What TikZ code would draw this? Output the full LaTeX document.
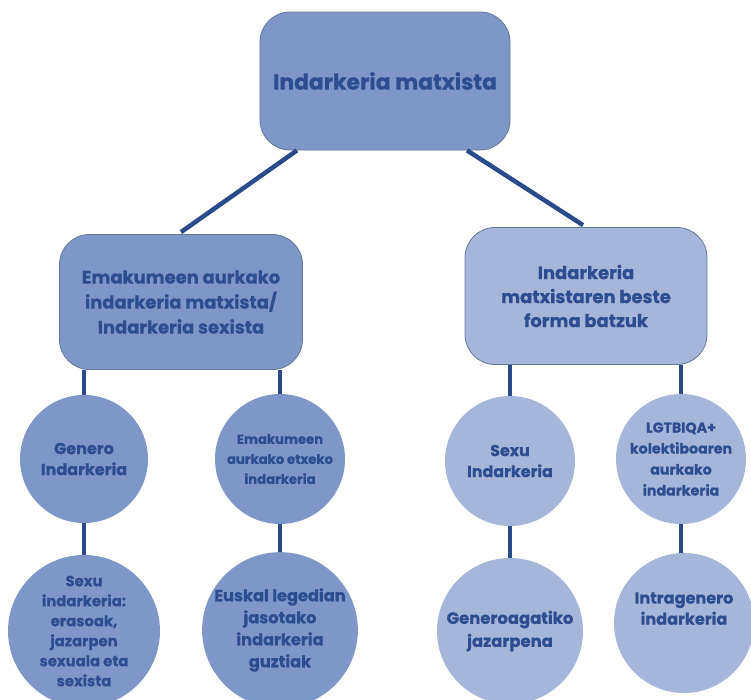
\documentclass[tikz,border=0pt]{standalone}
\usepackage{fontspec}
\setmainfont{Poppins}[BoldFeatures={FakeBold=0.6}]
\definecolor{txt}{HTML}{2C4D8F}
\definecolor{lnk}{HTML}{2A4A8A}
\definecolor{darkfill}{HTML}{7F97C8}
\definecolor{lightfill}{HTML}{A6B6DA}
\definecolor{edge}{HTML}{66779A}
\tikzset{
  boxnode/.style={draw=edge, line width=0.8pt, rounded corners=30pt, align=center, text=txt, font=\bfseries, inner sep=0pt},
  circnode/.style={circle, draw=none, align=center, text=txt, inner sep=0pt},
  link/.style={draw=lnk, line width=4.5pt},
}
\begin{document}
\begin{tikzpicture}[x=1pt,y=-1pt]
\useasboundingbox (0,0) rectangle (751,699);
\fill[white] (0,0) rectangle (751,699);
\clip (0,0) rectangle (751,699);
% top
\node[boxnode, fill=darkfill, minimum width=250pt, minimum height=138pt, font=\bfseries\fontsize{21.8}{26}\selectfont] (top) at (385,81) {Indarkeria matxista};
% middle boxes
\node[boxnode, fill=darkfill, minimum width=243pt, minimum height=135pt, font=\bfseries\fontsize{17.9}{25}\selectfont] (lb) at (181,302) {Emakumeen aurkako\\indarkeria matxista/\\Indarkeria sexista};
\node[boxnode, fill=lightfill, minimum width=242pt, minimum height=137pt, font=\bfseries\fontsize{17.9}{24}\selectfont] (rb) at (586,296) {Indarkeria\\matxistaren beste\\forma batzuk};
% top circles
\node[circnode, fill=darkfill, minimum size=128pt, font=\bfseries\fontsize{16}{21}\selectfont] (c1) at (84,459) {Genero\\Indarkeria};
\node[circnode, fill=darkfill, minimum size=130pt, font=\bfseries\fontsize{13.2}{20}\selectfont] (c2) at (280,459) {Emakumeen\\aurkako etxeko\\indarkeria};
\node[circnode, fill=lightfill, minimum size=130pt, font=\bfseries\fontsize{15.9}{21}\selectfont] (c3) at (510,461) {Sexu\\Indarkeria};
\node[circnode, fill=lightfill, minimum size=130pt, font=\bfseries\fontsize{14.2}{21}\selectfont] (c4) at (681,459) {LGTBIQA+\\kolektiboaren\\aurkako\\indarkeria};
% bottom circles
\node[circnode, fill=darkfill, minimum size=152pt, font=\bfseries\fontsize{14.8}{20}\selectfont] (c5) at (84,631) {Sexu\\indarkeria:\\erasoak,\\jazarpen\\sexuala eta\\sexista};
\node[circnode, fill=darkfill, minimum size=150pt, font=\bfseries\fontsize{16.2}{22}\selectfont] (c6) at (280,630) {Euskal legedian\\jasotako\\indarkeria\\guztiak};
\node[circnode, fill=lightfill, minimum size=146pt, font=\bfseries\fontsize{16.4}{23}\selectfont] (c7) at (510,631) {Generoagatiko\\jazarpena};
\node[circnode, fill=lightfill, minimum size=140pt, font=\bfseries\fontsize{16.1}{21}\selectfont] (c8) at (684,623) {Intragenero\\indarkeria\\[8pt]};
% links
\draw[link] ([xshift=-88pt]top.south) -- ([yshift=2pt]lb.north);
\draw[link] ([xshift=82pt]top.south) -- ([yshift=2pt,xshift=-3pt]rb.north);
\draw[link] (c1.north) -- (c1.north |- lb.south);
\draw[link] (c2.north) -- (c2.north |- lb.south);
\draw[link] (c3.north) -- (c3.north |- rb.south);
\draw[link] (c4.north) -- (c4.north |- rb.south);
\draw[link] (c1.south) -- (c5.north -| c1.south);
\draw[link] (c2.south) -- (c6.north -| c2.south);
\draw[link] (c3.south) -- (c7.north -| c3.south);
\draw[link] (c4.south) -- (c8.north -| c4.south);
\end{tikzpicture}
\end{document}
